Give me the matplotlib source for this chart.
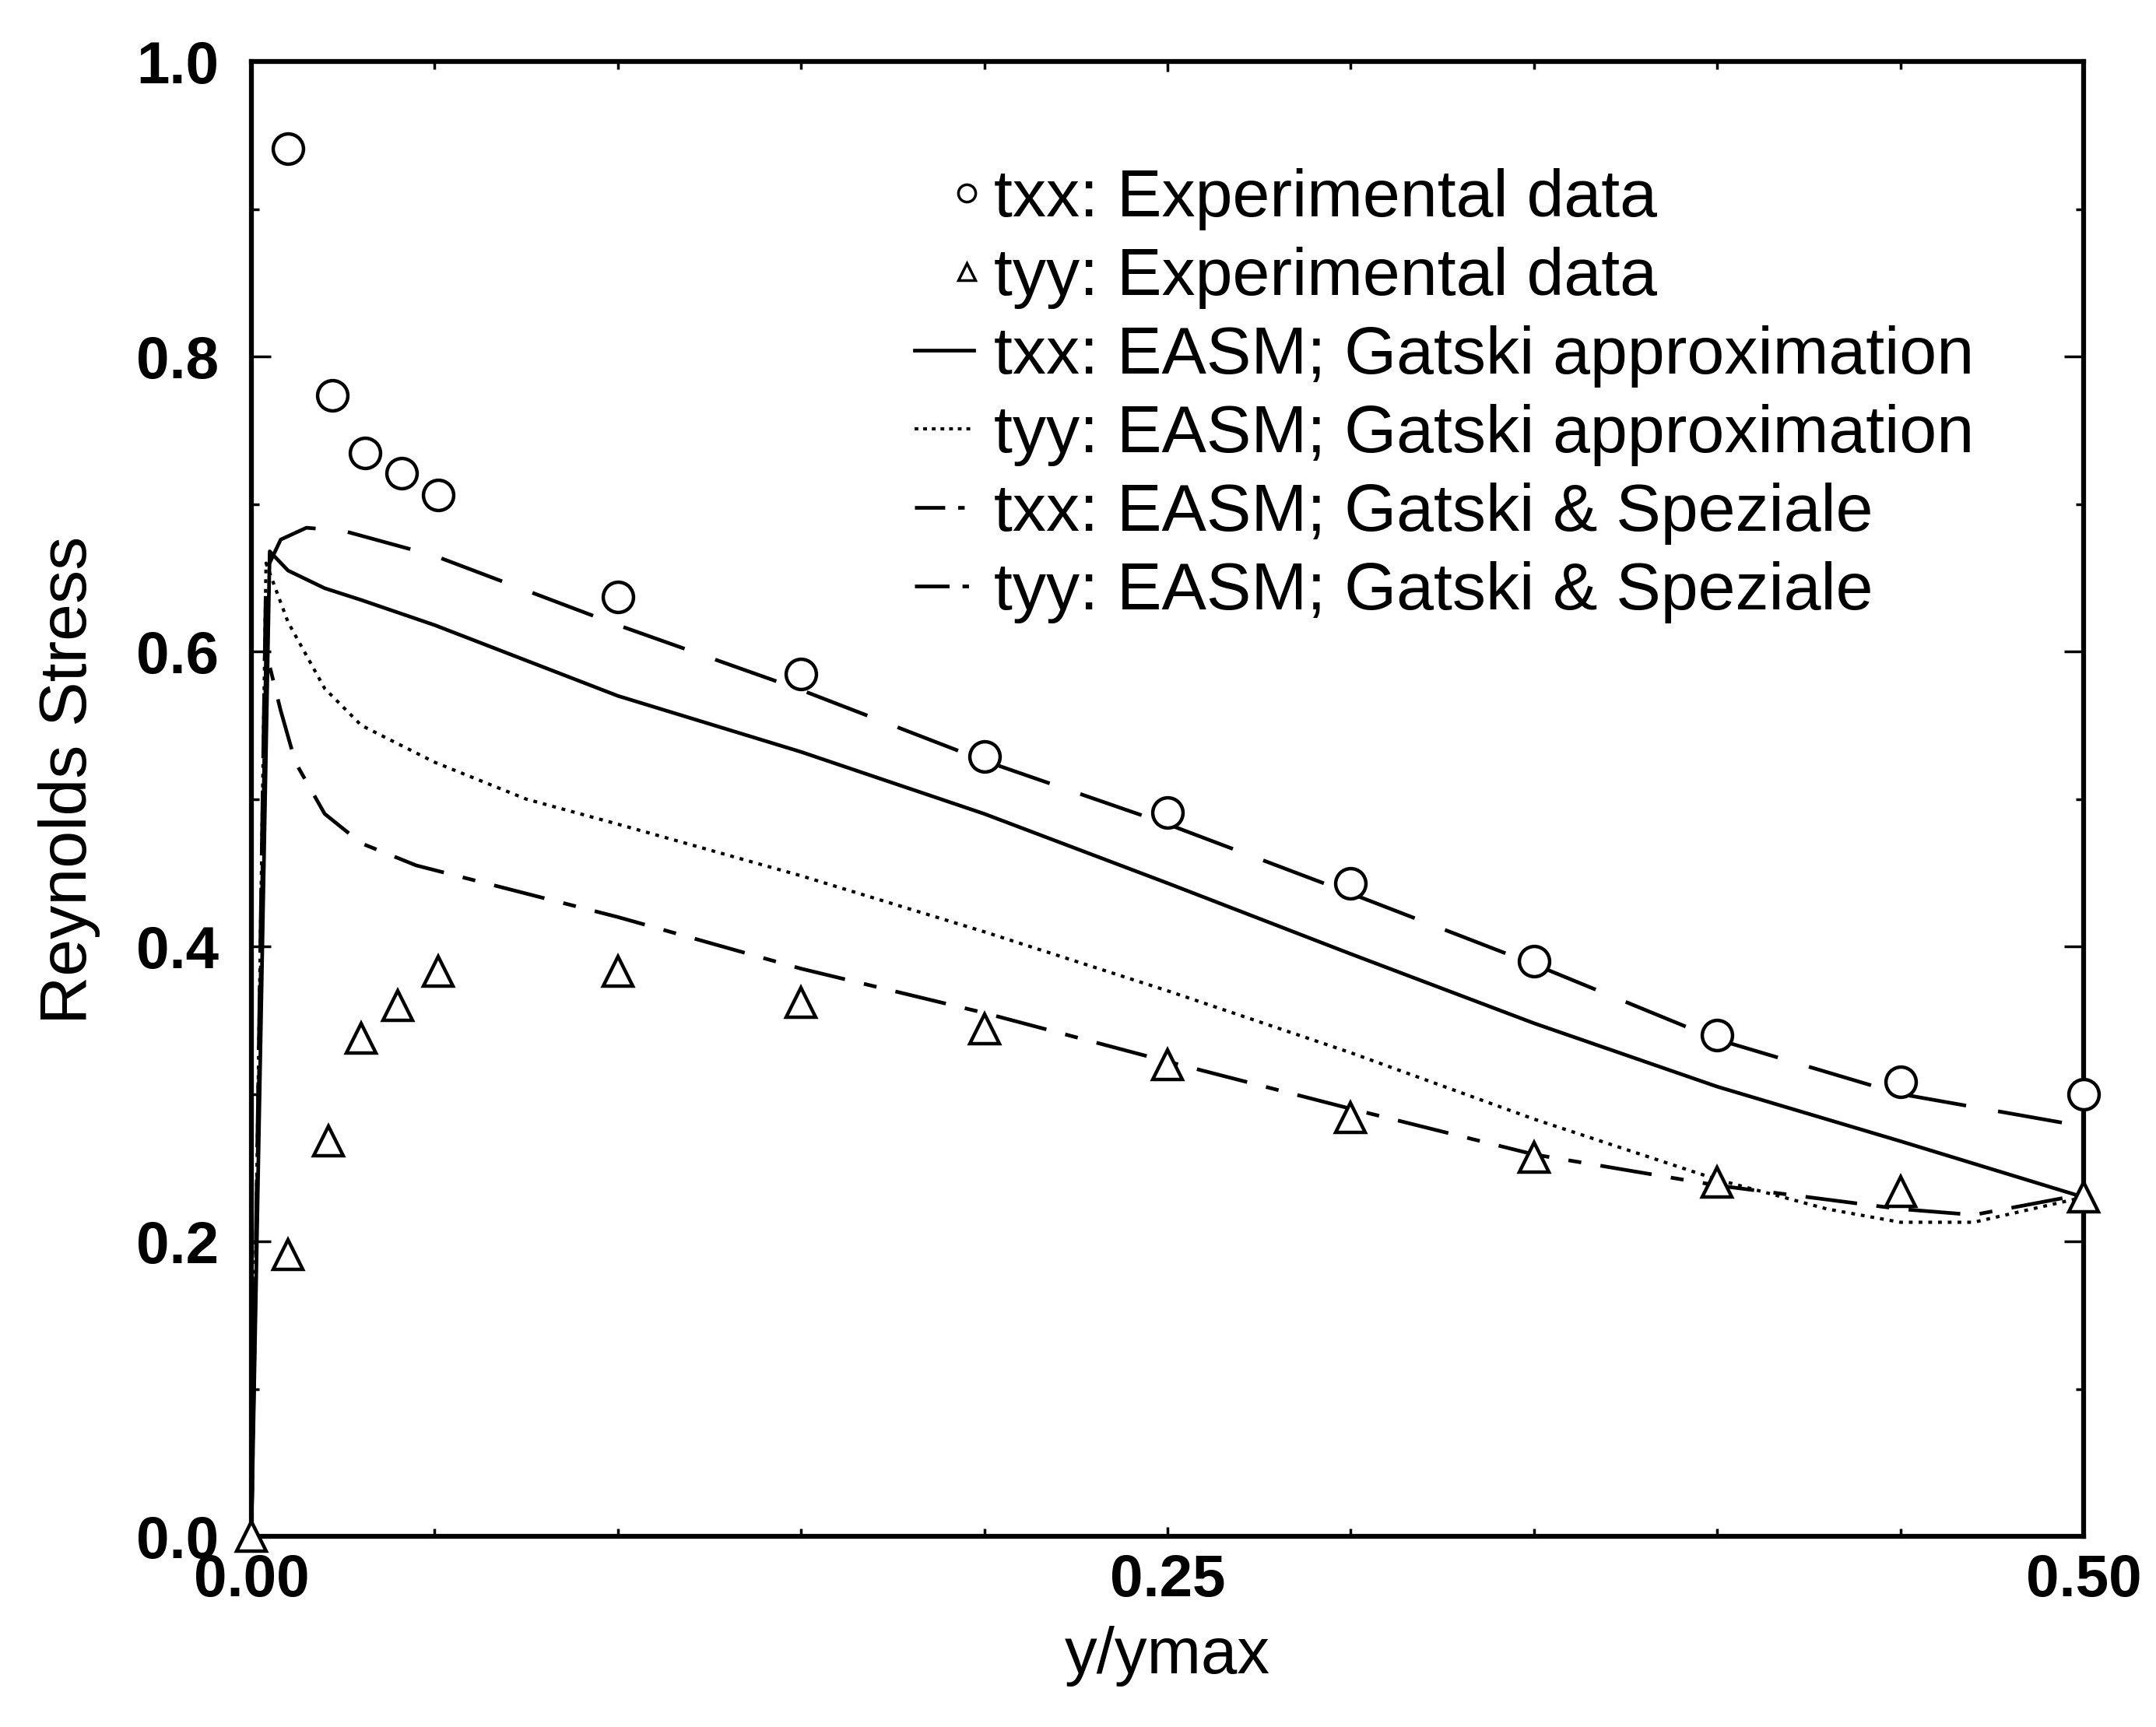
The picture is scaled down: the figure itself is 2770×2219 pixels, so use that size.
import matplotlib
matplotlib.use('Agg')
import matplotlib.pyplot as plt
from matplotlib.lines import Line2D
from matplotlib.legend_handler import HandlerLine2DCompound
from matplotlib.ticker import MultipleLocator
import numpy as np

plt.rcParams['font.family'] = ['Liberation Sans', 'DejaVu Sans']
plt.rcParams['lines.scale_dashes'] = False

# ---------------- data ----------------
x_txx_exp = [0.010, 0.022, 0.031, 0.041, 0.051, 0.10, 0.15, 0.20, 0.25, 0.30, 0.35, 0.40, 0.45, 0.50]
txx_exp = [0.941, 0.774, 0.735, 0.721, 0.706, 0.637, 0.585, 0.529, 0.491, 0.443, 0.390, 0.340, 0.308, 0.300]

x_tyy_exp = [0.0, 0.010, 0.021, 0.030, 0.040, 0.051, 0.10, 0.15, 0.20, 0.25, 0.30, 0.35, 0.40, 0.45, 0.50]
tyy_exp = [0.0, 0.191, 0.268, 0.338, 0.360, 0.383, 0.383, 0.362, 0.344, 0.320, 0.284, 0.257, 0.240, 0.234, 0.230]

x_txx_ga = [0.0, 0.005, 0.01, 0.02, 0.03, 0.05, 0.10, 0.15, 0.20, 0.25, 0.30, 0.35, 0.40, 0.45, 0.50]
txx_ga = [0.0, 0.668, 0.655, 0.643, 0.635, 0.618, 0.570, 0.532, 0.490, 0.443, 0.395, 0.348, 0.305, 0.268, 0.230]

x_tyy_ga = [0.0, 0.004, 0.01, 0.02, 0.03, 0.05, 0.075, 0.10, 0.15, 0.20, 0.25, 0.30, 0.35, 0.40, 0.43, 0.45, 0.47, 0.50]
tyy_ga = [0.0, 0.660, 0.620, 0.575, 0.550, 0.525, 0.500, 0.483, 0.448, 0.410, 0.370, 0.328, 0.283, 0.242, 0.222, 0.213, 0.213, 0.230]

x_txx_gs = [0.0, 0.004, 0.008, 0.015, 0.025, 0.05, 0.10, 0.15, 0.20, 0.25, 0.30, 0.35, 0.40, 0.45, 0.50]
txx_gs = [0.0, 0.655, 0.676, 0.684, 0.682, 0.665, 0.618, 0.574, 0.526, 0.483, 0.436, 0.388, 0.337, 0.300, 0.278]

x_tyy_gs = [0.0, 0.004, 0.008, 0.012, 0.02, 0.03, 0.045, 0.10, 0.15, 0.20, 0.25, 0.30, 0.35, 0.40, 0.45, 0.47, 0.50]
tyy_gs = [0.0, 0.600, 0.560, 0.525, 0.490, 0.470, 0.455, 0.420, 0.385, 0.355, 0.322, 0.290, 0.259, 0.238, 0.222, 0.218, 0.232]

labels = ["txx: Experimental data",
          "tyy: Experimental data",
          "txx: EASM; Gatski approximation",
          "tyy: EASM; Gatski approximation",
          "txx: EASM; Gatski & Speziale",
          "tyy: EASM; Gatski & Speziale"]

x_ticks = [0.0, 0.25, 0.50]
x_ticklabels = ["0.00", "0.25", "0.50"]
y_ticks = [0.0, 0.2, 0.4, 0.6, 0.8, 1.0]
y_ticklabels = ["0.0", "0.2", "0.4", "0.6", "0.8", "1.0"]

# ---------------- figure ----------------
fig = plt.figure(figsize=(27.7, 22.19), dpi=100)
ax = fig.add_axes([0.1166, 0.1104, 0.8498, 0.8538])

lw = 3.4
ax.plot(x_txx_ga, txx_ga, color='black', lw=lw, ls='-')
ax.plot(x_tyy_ga, tyy_ga, color='black', lw=3.0, ls=(0, (3.5, 5.5)))
ax.plot(x_txx_gs, txx_gs, color='black', lw=lw, ls=(0, (60, 30)))
ax.plot(x_tyy_gs, tyy_gs, color='black', lw=lw, ls=(0, (48, 18, 12, 18)))

ms = 28
ax.plot(x_txx_exp, txx_exp, ls='none', marker='o', ms=ms, mfc='white', mec='black',
        mew=3.2, clip_on=False, zorder=5)
ax.plot(x_tyy_exp, tyy_exp, ls='none', marker='^', ms=ms, mfc='white', mec='black',
        mew=3.2, clip_on=False, zorder=5)

ax.set_xlim(0, 0.5)
ax.set_ylim(0, 1.0)
ax.set_xticks(x_ticks)
ax.set_xticklabels(x_ticklabels)
ax.set_yticks(y_ticks)
ax.set_yticklabels(y_ticklabels)
ax.xaxis.set_minor_locator(MultipleLocator(0.05))
ax.yaxis.set_minor_locator(MultipleLocator(0.1))

ax.tick_params(which='both', direction='in', top=True, right=True, width=2.5)
ax.tick_params(axis='x', which='major', length=9, pad=16, labelsize=55)
ax.tick_params(axis='y', which='major', length=18, pad=30, labelsize=55)
ax.tick_params(which='minor', length=7)
for lab in ax.get_xticklabels() + ax.get_yticklabels():
    lab.set_fontweight('bold')

for sp in ax.spines.values():
    sp.set_linewidth(4.5)

ax.set_xlabel("y/ymax", fontsize=60, labelpad=16)
ax.set_ylabel("Reynolds Stress", fontsize=62)
ax.yaxis.set_label_coords(-0.0825, 0.513)


class RightMarkerHandler(HandlerLine2DCompound):
    def get_xdata(self, legend, xdescent, ydescent, width, height, fontsize):
        xdata = np.array([-xdescent, -xdescent + width])
        xm = np.array([-xdescent + width - 0.12 * width])
        return xdata, xm


h_o = Line2D([], [], ls='none', marker='o', ms=16, mfc='white', mec='black', mew=2.5)
h_t = Line2D([], [], ls='none', marker='^', ms=16, mfc='white', mec='black', mew=2.5)
h_1 = Line2D([], [], color='black', lw=lw, ls='-')
h_2 = Line2D([], [], color='black', lw=3.0, ls=(0, (3.5, 4.5)))
h_3 = Line2D([], [], color='black', lw=lw, ls=(0, (28, 12, 6, 12)))
h_4 = Line2D([], [], color='black', lw=lw, ls=(0, (32, 12, 6, 12)))

leg = ax.legend([h_o, h_t, h_1, h_2, h_3, h_4], labels,
                loc='upper left', bbox_to_anchor=(0.362, 0.928),
                frameon=False, fontsize=62, handlelength=0.88, handletextpad=0.3,
                labelspacing=0.245, borderpad=0, borderaxespad=0,
                handler_map={h_o: RightMarkerHandler(), h_t: RightMarkerHandler()})

fig.savefig("out.png", dpi=100, facecolor='white')
